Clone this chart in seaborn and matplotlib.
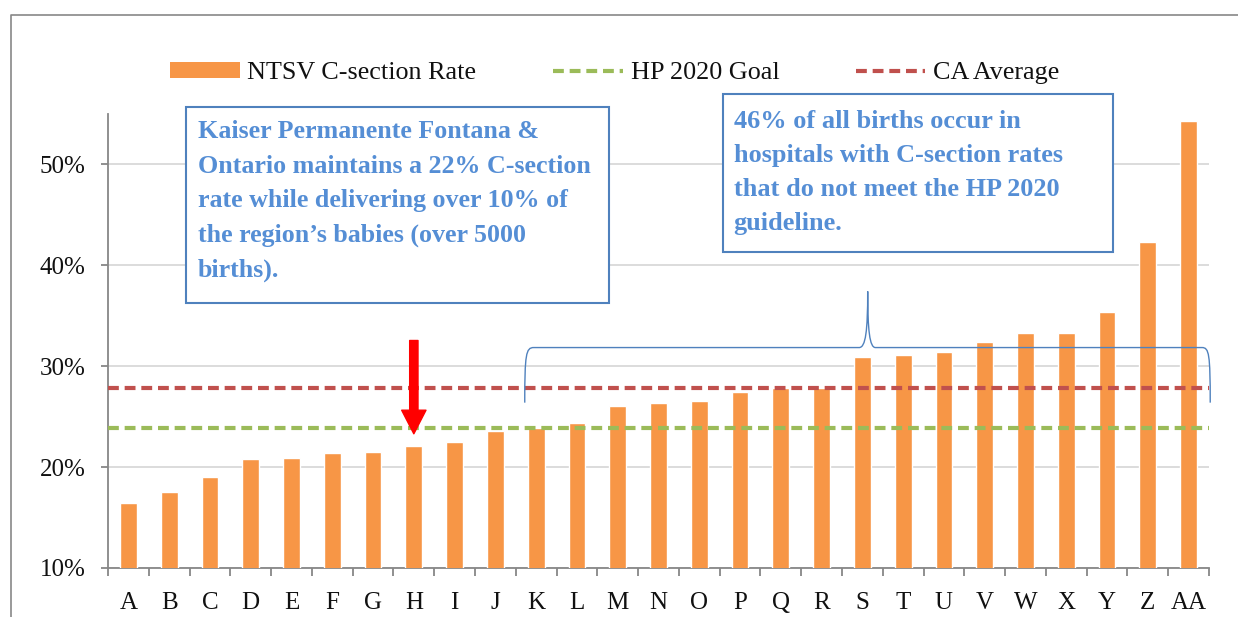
import matplotlib
matplotlib.use("Agg")
import matplotlib.pyplot as plt
import seaborn as sns
import pandas as pd
from matplotlib.path import Path
from matplotlib.patches import PathPatch, Rectangle, Patch
from matplotlib.lines import Line2D
from matplotlib.ticker import PercentFormatter, FixedLocator

# ---- data ----
hospitals = ["A", "B", "C", "D", "E", "F", "G", "H", "I", "J", "K", "L", "M", "N",
             "O", "P", "Q", "R", "S", "T", "U", "V", "W", "X", "Y", "Z", "AA"]
ntsv_rate = [16.4, 17.5, 19.0, 20.8, 20.9, 21.4, 21.5, 22.1, 22.5, 23.6, 23.9, 24.4,
             26.1, 26.4, 26.6, 27.4, 27.8, 27.8, 30.9, 31.1, 31.4, 32.4, 33.3, 33.3,
             35.4, 42.3, 54.3]
hp2020_goal = 23.9
ca_average = 27.8
y_ticks = [10, 20, 30, 40, 50]

box1_lines = ["Kaiser Permanente Fontana &",
              "Ontario maintains a 22% C-section",
              "rate while delivering over 10% of",
              "the region\u2019s babies (over 5000",
              "births)."]
box2_lines = ["46% of all births occur in",
              "hospitals with C-section rates",
              "that do not meet the HP 2020",
              "guideline."]

ORANGE = "#F79646"
GREEN = "#9BBB59"
RED = "#C0504D"
BLUE = "#4F81BD"
TXTBLUE = "#558ED5"
AXGRAY = "#878787"

sns.set_theme(style="white")
plt.rcParams["font.family"] = ["Liberation Serif", "DejaVu Serif"]

W, H = 1238, 617
fig = plt.figure(figsize=(W / 100, H / 100), dpi=100)
ax = fig.add_axes([108 / W, 1 - 568 / H, (1209 - 108) / W, (568 - 114) / H])

df = pd.DataFrame({"hospital": hospitals, "rate": ntsv_rate})
sns.barplot(data=df, x="hospital", y="rate", color=ORANGE, saturation=1,
            width=0.41, ax=ax, zorder=3)

ax.axhline(hp2020_goal, color=GREEN, lw=3, ls=(0, (2.6, 1.4)), zorder=4)
ax.axhline(ca_average, color=RED, lw=3, ls=(0, (2.6, 1.4)), zorder=4)

ax.set_xlim(-0.5, len(hospitals) - 0.5)
ax.set_ylim(10, 55)
ax.set_yticks(y_ticks)
ax.yaxis.set_major_formatter(PercentFormatter(decimals=0))
ax.grid(axis="y", color="#D9D9D9", lw=1.3, zorder=0)
ax.set_axisbelow(True)
ax.set_xlabel("")
ax.set_ylabel("")

for s in ["top", "right"]:
    ax.spines[s].set_visible(False)
for s in ["left", "bottom"]:
    ax.spines[s].set_color(AXGRAY)
    ax.spines[s].set_linewidth(1.3)

ax.tick_params(axis="y", which="major", left=True, length=5, width=1.3,
               color=AXGRAY, pad=11, labelsize=18, labelcolor="#111111")
ax.tick_params(axis="x", which="major", bottom=False, length=0, pad=17,
               labelsize=18, labelcolor="#111111")
ax.xaxis.set_minor_locator(FixedLocator([i - 0.5 for i in range(len(hospitals) + 1)]))
ax.tick_params(axis="x", which="minor", bottom=True, length=6, width=1.3,
               color=AXGRAY, direction="out")

# curly brace over hospitals K..AA
verts = [(9.72, 26.39),
         (9.72, 31.2), (9.75, 31.85), (9.94, 31.85),
         (17.92, 31.85),
         (18.08, 31.85), (18.13, 33.5), (18.13, 37.42),
         (18.13, 33.5), (18.18, 31.85), (18.32, 31.85),
         (26.33, 31.85),
         (26.5, 31.85), (26.53, 31.2), (26.53, 26.39)]
codes = [Path.MOVETO,
         Path.CURVE4, Path.CURVE4, Path.CURVE4,
         Path.LINETO,
         Path.CURVE4, Path.CURVE4, Path.CURVE4,
         Path.CURVE4, Path.CURVE4, Path.CURVE4,
         Path.LINETO,
         Path.CURVE4, Path.CURVE4, Path.CURVE4]
ax.add_patch(PathPatch(Path(verts, codes), fc="none", ec=BLUE, lw=1.0,
                       clip_on=False, zorder=5))

# red arrow pointing at hospital H
ax.annotate("", xy=(7, 23.3), xytext=(7, 32.55),
            arrowprops=dict(arrowstyle="simple,head_length=1.7,head_width=1.75,tail_width=0.6",
                            mutation_scale=10, color="red", shrinkA=0, shrinkB=0),
            zorder=6)

# legend
handles = [Patch(facecolor=ORANGE, edgecolor="none"),
           Line2D([], [], color=GREEN, lw=3, ls=(0, (2.6, 1.4))),
           Line2D([], [], color=RED, lw=3, ls=(0, (2.6, 1.4)))]
labels = ["NTSV C-section Rate", "HP 2020 Goal", "CA Average"]
fig.legend(handles, labels, ncol=3, loc="center", bbox_to_anchor=(615 / W, 1 - 73 / H),
           frameon=False, fontsize=18.8, handlelength=2.65, handleheight=0.54,
           handletextpad=0.3, columnspacing=2.95, labelcolor="#111111")

# text boxes
def text_box(x0, y0, x1, y1, tx, ty0, dy, lines, fs):
    fig.patches.append(Rectangle((x0 / W, 1 - y1 / H), (x1 - x0) / W, (y1 - y0) / H,
                                 transform=fig.transFigure, fc="white", ec=BLUE,
                                 lw=1.5, zorder=10))
    for i, line in enumerate(lines):
        fig.text(tx / W, 1 - (ty0 + i * dy) / H, line, color=TXTBLUE, fontsize=fs,
                 fontweight="bold", va="center", ha="left", zorder=11)

text_box(186, 107, 609, 303, 198, 132, 34.5, box1_lines, 18.7)
text_box(722.5, 94, 1112.5, 252, 733.5, 121, 34.2, box2_lines, 18.9)

# outer frame (cropped)
fig.add_artist(Line2D([10.5 / W, 10.5 / W, 1.0], [0.0, 1 - 15 / H, 1 - 15 / H],
                      transform=fig.transFigure, color=AXGRAY, lw=1.2))

fig.savefig("out.png", dpi=100)
